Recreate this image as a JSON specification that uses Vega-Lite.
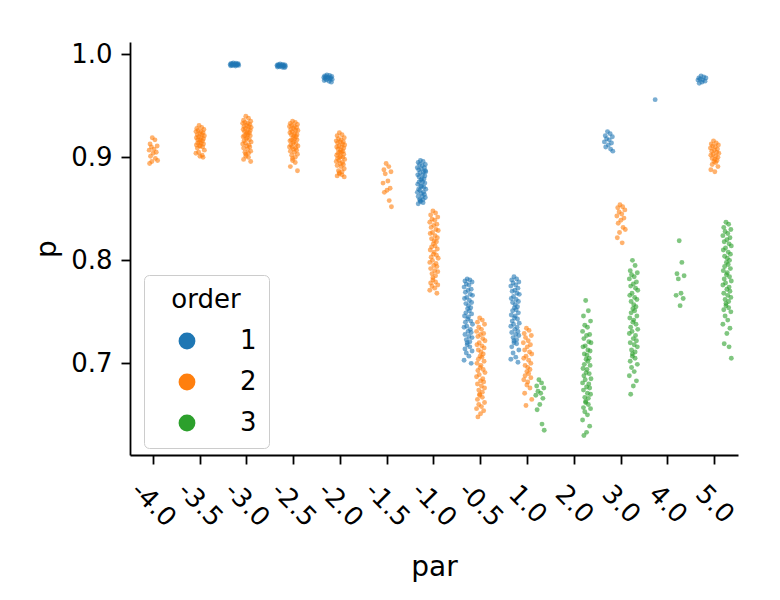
{
"$schema":"https://vega.github.io/schema/vega-lite/v6.json",
"width":608,"height":413,
"autosize":{"type":"none"},
"padding":{"left":130,"top":42,"right":42,"bottom":145},
"background":"white",
"config":{"view":{"stroke":null},"font":"DejaVu Sans",
"axis":{"grid":false,"domainColor":"#000000","tickColor":"#000000","labelColor":"#000000","titleColor":"#000000","domainWidth":1.8,"tickWidth":1.8,"tickSize":9,"labelFontSize":26,"titleFontSize":28,"titleFontWeight":"normal","labelFont":"DejaVu Sans","titleFont":"DejaVu Sans"},
"legend":{"titleFont":"DejaVu Sans","labelFont":"DejaVu Sans"}},
"data":{"values":[
{"par":"-4.0","order":2,"run":7,"p":0.919},{"par":"-4.0","order":2,"run":13,"p":0.917},{"par":"-4.0","order":2,"run":2,"p":0.913},{"par":"-4.0","order":2,"run":18,"p":0.911},{"par":"-4.0","order":2,"run":5,"p":0.910},{"par":"-4.0","order":2,"run":11,"p":0.908},{"par":"-4.0","order":2,"run":0,"p":0.907},{"par":"-4.0","order":2,"run":16,"p":0.905},{"par":"-4.0","order":2,"run":9,"p":0.904},{"par":"-4.0","order":2,"run":3,"p":0.901},{"par":"-4.0","order":2,"run":14,"p":0.899},{"par":"-4.0","order":2,"run":19,"p":0.897},{"par":"-4.0","order":2,"run":6,"p":0.896},{"par":"-4.0","order":2,"run":1,"p":0.894},
{"par":"-3.5","order":2,"run":7,"p":0.931},{"par":"-3.5","order":2,"run":13,"p":0.929},{"par":"-3.5","order":2,"run":2,"p":0.928},{"par":"-3.5","order":2,"run":18,"p":0.927},{"par":"-3.5","order":2,"run":5,"p":0.926},{"par":"-3.5","order":2,"run":11,"p":0.925},{"par":"-3.5","order":2,"run":0,"p":0.925},{"par":"-3.5","order":2,"run":16,"p":0.924},{"par":"-3.5","order":2,"run":9,"p":0.923},{"par":"-3.5","order":2,"run":3,"p":0.922},{"par":"-3.5","order":2,"run":14,"p":0.922},{"par":"-3.5","order":2,"run":19,"p":0.921},{"par":"-3.5","order":2,"run":6,"p":0.920},{"par":"-3.5","order":2,"run":1,"p":0.919},{"par":"-3.5","order":2,"run":12,"p":0.919},{"par":"-3.5","order":2,"run":17,"p":0.918},{"par":"-3.5","order":2,"run":4,"p":0.917},{"par":"-3.5","order":2,"run":10,"p":0.917},{"par":"-3.5","order":2,"run":15,"p":0.916},{"par":"-3.5","order":2,"run":8,"p":0.915},
{"par":"-3.5","order":2,"run":12,"p":0.914},{"par":"-3.5","order":2,"run":4,"p":0.914},{"par":"-3.5","order":2,"run":17,"p":0.913},{"par":"-3.5","order":2,"run":1,"p":0.912},{"par":"-3.5","order":2,"run":10,"p":0.911},{"par":"-3.5","order":2,"run":8,"p":0.911},{"par":"-3.5","order":2,"run":15,"p":0.910},{"par":"-3.5","order":2,"run":3,"p":0.909},{"par":"-3.5","order":2,"run":19,"p":0.907},{"par":"-3.5","order":2,"run":6,"p":0.905},{"par":"-3.5","order":2,"run":0,"p":0.904},{"par":"-3.5","order":2,"run":14,"p":0.902},{"par":"-3.5","order":2,"run":9,"p":0.901},{"par":"-3.5","order":2,"run":16,"p":0.900},
{"par":"-3.0","order":1,"run":7,"p":0.9916},{"par":"-3.0","order":1,"run":13,"p":0.9913},{"par":"-3.0","order":1,"run":2,"p":0.9911},{"par":"-3.0","order":1,"run":18,"p":0.9909},{"par":"-3.0","order":1,"run":5,"p":0.9906},{"par":"-3.0","order":1,"run":11,"p":0.9904},{"par":"-3.0","order":1,"run":0,"p":0.9902},{"par":"-3.0","order":1,"run":16,"p":0.9900},{"par":"-3.0","order":1,"run":9,"p":0.9898},{"par":"-3.0","order":1,"run":3,"p":0.9897},{"par":"-3.0","order":1,"run":14,"p":0.9895},{"par":"-3.0","order":1,"run":19,"p":0.9893},{"par":"-3.0","order":1,"run":6,"p":0.9891},{"par":"-3.0","order":1,"run":1,"p":0.9889},{"par":"-3.0","order":1,"run":12,"p":0.9887},{"par":"-3.0","order":1,"run":17,"p":0.9903},
{"par":"-3.0","order":2,"run":7,"p":0.940},{"par":"-3.0","order":2,"run":13,"p":0.938},{"par":"-3.0","order":2,"run":2,"p":0.936},{"par":"-3.0","order":2,"run":18,"p":0.935},{"par":"-3.0","order":2,"run":5,"p":0.934},{"par":"-3.0","order":2,"run":11,"p":0.933},{"par":"-3.0","order":2,"run":0,"p":0.933},{"par":"-3.0","order":2,"run":16,"p":0.932},{"par":"-3.0","order":2,"run":9,"p":0.931},{"par":"-3.0","order":2,"run":3,"p":0.930},{"par":"-3.0","order":2,"run":14,"p":0.930},{"par":"-3.0","order":2,"run":19,"p":0.929},{"par":"-3.0","order":2,"run":6,"p":0.928},{"par":"-3.0","order":2,"run":1,"p":0.927},{"par":"-3.0","order":2,"run":12,"p":0.927},{"par":"-3.0","order":2,"run":17,"p":0.926},{"par":"-3.0","order":2,"run":4,"p":0.925},{"par":"-3.0","order":2,"run":10,"p":0.924},{"par":"-3.0","order":2,"run":15,"p":0.924},{"par":"-3.0","order":2,"run":8,"p":0.923},
{"par":"-3.0","order":2,"run":12,"p":0.922},{"par":"-3.0","order":2,"run":4,"p":0.921},{"par":"-3.0","order":2,"run":17,"p":0.921},{"par":"-3.0","order":2,"run":1,"p":0.920},{"par":"-3.0","order":2,"run":10,"p":0.919},{"par":"-3.0","order":2,"run":8,"p":0.918},{"par":"-3.0","order":2,"run":15,"p":0.917},{"par":"-3.0","order":2,"run":3,"p":0.916},{"par":"-3.0","order":2,"run":19,"p":0.915},{"par":"-3.0","order":2,"run":6,"p":0.914},{"par":"-3.0","order":2,"run":0,"p":0.913},{"par":"-3.0","order":2,"run":14,"p":0.912},{"par":"-3.0","order":2,"run":9,"p":0.911},{"par":"-3.0","order":2,"run":16,"p":0.910},{"par":"-3.0","order":2,"run":2,"p":0.909},{"par":"-3.0","order":2,"run":11,"p":0.908},{"par":"-3.0","order":2,"run":18,"p":0.906},{"par":"-3.0","order":2,"run":5,"p":0.905},{"par":"-3.0","order":2,"run":13,"p":0.904},{"par":"-3.0","order":2,"run":7,"p":0.903},
{"par":"-3.0","order":2,"run":7,"p":0.901},{"par":"-3.0","order":2,"run":13,"p":0.900},{"par":"-3.0","order":2,"run":2,"p":0.898},{"par":"-3.0","order":2,"run":18,"p":0.896},
{"par":"-2.5","order":1,"run":7,"p":0.9906},{"par":"-2.5","order":1,"run":13,"p":0.9903},{"par":"-2.5","order":1,"run":2,"p":0.9900},{"par":"-2.5","order":1,"run":18,"p":0.9898},{"par":"-2.5","order":1,"run":5,"p":0.9896},{"par":"-2.5","order":1,"run":11,"p":0.9894},{"par":"-2.5","order":1,"run":0,"p":0.9892},{"par":"-2.5","order":1,"run":16,"p":0.9890},{"par":"-2.5","order":1,"run":9,"p":0.9888},{"par":"-2.5","order":1,"run":3,"p":0.9886},{"par":"-2.5","order":1,"run":14,"p":0.9884},{"par":"-2.5","order":1,"run":19,"p":0.9882},{"par":"-2.5","order":1,"run":6,"p":0.9880},{"par":"-2.5","order":1,"run":1,"p":0.9877},{"par":"-2.5","order":1,"run":12,"p":0.9874},{"par":"-2.5","order":1,"run":17,"p":0.9871},
{"par":"-2.5","order":2,"run":7,"p":0.935},{"par":"-2.5","order":2,"run":13,"p":0.934},{"par":"-2.5","order":2,"run":2,"p":0.933},{"par":"-2.5","order":2,"run":18,"p":0.932},{"par":"-2.5","order":2,"run":5,"p":0.931},{"par":"-2.5","order":2,"run":11,"p":0.930},{"par":"-2.5","order":2,"run":0,"p":0.930},{"par":"-2.5","order":2,"run":16,"p":0.929},{"par":"-2.5","order":2,"run":9,"p":0.928},{"par":"-2.5","order":2,"run":3,"p":0.927},{"par":"-2.5","order":2,"run":14,"p":0.926},{"par":"-2.5","order":2,"run":19,"p":0.926},{"par":"-2.5","order":2,"run":6,"p":0.925},{"par":"-2.5","order":2,"run":1,"p":0.924},{"par":"-2.5","order":2,"run":12,"p":0.923},{"par":"-2.5","order":2,"run":17,"p":0.922},{"par":"-2.5","order":2,"run":4,"p":0.922},{"par":"-2.5","order":2,"run":10,"p":0.921},{"par":"-2.5","order":2,"run":15,"p":0.920},{"par":"-2.5","order":2,"run":8,"p":0.919},
{"par":"-2.5","order":2,"run":12,"p":0.918},{"par":"-2.5","order":2,"run":4,"p":0.917},{"par":"-2.5","order":2,"run":17,"p":0.917},{"par":"-2.5","order":2,"run":1,"p":0.916},{"par":"-2.5","order":2,"run":10,"p":0.915},{"par":"-2.5","order":2,"run":8,"p":0.914},{"par":"-2.5","order":2,"run":15,"p":0.913},{"par":"-2.5","order":2,"run":3,"p":0.912},{"par":"-2.5","order":2,"run":19,"p":0.911},{"par":"-2.5","order":2,"run":6,"p":0.910},{"par":"-2.5","order":2,"run":0,"p":0.910},{"par":"-2.5","order":2,"run":14,"p":0.909},{"par":"-2.5","order":2,"run":9,"p":0.908},{"par":"-2.5","order":2,"run":16,"p":0.907},{"par":"-2.5","order":2,"run":2,"p":0.906},{"par":"-2.5","order":2,"run":11,"p":0.905},{"par":"-2.5","order":2,"run":18,"p":0.903},{"par":"-2.5","order":2,"run":5,"p":0.902},{"par":"-2.5","order":2,"run":13,"p":0.900},{"par":"-2.5","order":2,"run":7,"p":0.899},
{"par":"-2.5","order":2,"run":7,"p":0.897},{"par":"-2.5","order":2,"run":13,"p":0.895},{"par":"-2.5","order":2,"run":2,"p":0.891},{"par":"-2.5","order":2,"run":18,"p":0.887},
{"par":"-2.0","order":1,"run":7,"p":0.9800},{"par":"-2.0","order":1,"run":13,"p":0.9795},{"par":"-2.0","order":1,"run":2,"p":0.9790},{"par":"-2.0","order":1,"run":18,"p":0.9786},{"par":"-2.0","order":1,"run":5,"p":0.9782},{"par":"-2.0","order":1,"run":11,"p":0.9779},{"par":"-2.0","order":1,"run":0,"p":0.9775},{"par":"-2.0","order":1,"run":16,"p":0.9772},{"par":"-2.0","order":1,"run":9,"p":0.9768},{"par":"-2.0","order":1,"run":3,"p":0.9765},{"par":"-2.0","order":1,"run":14,"p":0.9761},{"par":"-2.0","order":1,"run":19,"p":0.9757},{"par":"-2.0","order":1,"run":6,"p":0.9752},{"par":"-2.0","order":1,"run":1,"p":0.9746},{"par":"-2.0","order":1,"run":12,"p":0.9738},{"par":"-2.0","order":1,"run":17,"p":0.9730},
{"par":"-2.0","order":2,"run":7,"p":0.924},{"par":"-2.0","order":2,"run":13,"p":0.922},{"par":"-2.0","order":2,"run":2,"p":0.921},{"par":"-2.0","order":2,"run":18,"p":0.919},{"par":"-2.0","order":2,"run":5,"p":0.918},{"par":"-2.0","order":2,"run":11,"p":0.917},{"par":"-2.0","order":2,"run":0,"p":0.916},{"par":"-2.0","order":2,"run":16,"p":0.915},{"par":"-2.0","order":2,"run":9,"p":0.915},{"par":"-2.0","order":2,"run":3,"p":0.914},{"par":"-2.0","order":2,"run":14,"p":0.913},{"par":"-2.0","order":2,"run":19,"p":0.912},{"par":"-2.0","order":2,"run":6,"p":0.911},{"par":"-2.0","order":2,"run":1,"p":0.910},{"par":"-2.0","order":2,"run":12,"p":0.910},{"par":"-2.0","order":2,"run":17,"p":0.909},{"par":"-2.0","order":2,"run":4,"p":0.908},{"par":"-2.0","order":2,"run":10,"p":0.907},{"par":"-2.0","order":2,"run":15,"p":0.906},{"par":"-2.0","order":2,"run":8,"p":0.905},
{"par":"-2.0","order":2,"run":12,"p":0.905},{"par":"-2.0","order":2,"run":4,"p":0.904},{"par":"-2.0","order":2,"run":17,"p":0.903},{"par":"-2.0","order":2,"run":1,"p":0.902},{"par":"-2.0","order":2,"run":10,"p":0.901},{"par":"-2.0","order":2,"run":8,"p":0.900},{"par":"-2.0","order":2,"run":15,"p":0.900},{"par":"-2.0","order":2,"run":3,"p":0.899},{"par":"-2.0","order":2,"run":19,"p":0.898},{"par":"-2.0","order":2,"run":6,"p":0.897},{"par":"-2.0","order":2,"run":0,"p":0.896},{"par":"-2.0","order":2,"run":14,"p":0.895},{"par":"-2.0","order":2,"run":9,"p":0.894},{"par":"-2.0","order":2,"run":16,"p":0.893},{"par":"-2.0","order":2,"run":2,"p":0.892},{"par":"-2.0","order":2,"run":11,"p":0.891},{"par":"-2.0","order":2,"run":18,"p":0.889},{"par":"-2.0","order":2,"run":5,"p":0.887},{"par":"-2.0","order":2,"run":13,"p":0.886},{"par":"-2.0","order":2,"run":7,"p":0.885},
{"par":"-2.0","order":2,"run":7,"p":0.884},{"par":"-2.0","order":2,"run":13,"p":0.883},{"par":"-2.0","order":2,"run":2,"p":0.882},{"par":"-2.0","order":2,"run":18,"p":0.881},
{"par":"-1.5","order":2,"run":7,"p":0.894},{"par":"-1.5","order":2,"run":13,"p":0.891},{"par":"-1.5","order":2,"run":2,"p":0.888},{"par":"-1.5","order":2,"run":18,"p":0.886},{"par":"-1.5","order":2,"run":5,"p":0.884},{"par":"-1.5","order":2,"run":11,"p":0.877},{"par":"-1.5","order":2,"run":0,"p":0.875},{"par":"-1.5","order":2,"run":16,"p":0.870},{"par":"-1.5","order":2,"run":9,"p":0.868},{"par":"-1.5","order":2,"run":3,"p":0.866},{"par":"-1.5","order":2,"run":14,"p":0.858},{"par":"-1.5","order":2,"run":19,"p":0.852},
{"par":"-1.0","order":1,"run":7,"p":0.897},{"par":"-1.0","order":1,"run":13,"p":0.896},{"par":"-1.0","order":1,"run":2,"p":0.895},{"par":"-1.0","order":1,"run":18,"p":0.893},{"par":"-1.0","order":1,"run":5,"p":0.893},{"par":"-1.0","order":1,"run":11,"p":0.892},{"par":"-1.0","order":1,"run":0,"p":0.890},{"par":"-1.0","order":1,"run":16,"p":0.890},{"par":"-1.0","order":1,"run":9,"p":0.889},{"par":"-1.0","order":1,"run":3,"p":0.888},{"par":"-1.0","order":1,"run":14,"p":0.886},{"par":"-1.0","order":1,"run":19,"p":0.886},{"par":"-1.0","order":1,"run":6,"p":0.885},{"par":"-1.0","order":1,"run":1,"p":0.883},{"par":"-1.0","order":1,"run":12,"p":0.883},{"par":"-1.0","order":1,"run":17,"p":0.882},{"par":"-1.0","order":1,"run":4,"p":0.881},{"par":"-1.0","order":1,"run":10,"p":0.879},{"par":"-1.0","order":1,"run":15,"p":0.879},{"par":"-1.0","order":1,"run":8,"p":0.878},
{"par":"-1.0","order":1,"run":12,"p":0.876},{"par":"-1.0","order":1,"run":4,"p":0.876},{"par":"-1.0","order":1,"run":17,"p":0.875},{"par":"-1.0","order":1,"run":1,"p":0.874},{"par":"-1.0","order":1,"run":10,"p":0.872},{"par":"-1.0","order":1,"run":8,"p":0.872},{"par":"-1.0","order":1,"run":15,"p":0.871},{"par":"-1.0","order":1,"run":3,"p":0.869},{"par":"-1.0","order":1,"run":19,"p":0.869},{"par":"-1.0","order":1,"run":6,"p":0.868},{"par":"-1.0","order":1,"run":0,"p":0.866},{"par":"-1.0","order":1,"run":14,"p":0.866},{"par":"-1.0","order":1,"run":9,"p":0.865},{"par":"-1.0","order":1,"run":16,"p":0.864},{"par":"-1.0","order":1,"run":2,"p":0.862},{"par":"-1.0","order":1,"run":11,"p":0.862},{"par":"-1.0","order":1,"run":18,"p":0.861},{"par":"-1.0","order":1,"run":5,"p":0.859},{"par":"-1.0","order":1,"run":13,"p":0.859},{"par":"-1.0","order":1,"run":7,"p":0.858},
{"par":"-1.0","order":1,"run":7,"p":0.857},{"par":"-1.0","order":1,"run":13,"p":0.856},{"par":"-1.0","order":1,"run":2,"p":0.855},{"par":"-1.0","order":1,"run":18,"p":0.887},
{"par":"-1.0","order":2,"run":7,"p":0.848},{"par":"-1.0","order":2,"run":13,"p":0.846},{"par":"-1.0","order":2,"run":2,"p":0.844},{"par":"-1.0","order":2,"run":18,"p":0.842},{"par":"-1.0","order":2,"run":5,"p":0.840},{"par":"-1.0","order":2,"run":11,"p":0.839},{"par":"-1.0","order":2,"run":0,"p":0.837},{"par":"-1.0","order":2,"run":16,"p":0.835},{"par":"-1.0","order":2,"run":9,"p":0.834},{"par":"-1.0","order":2,"run":3,"p":0.832},{"par":"-1.0","order":2,"run":14,"p":0.830},{"par":"-1.0","order":2,"run":19,"p":0.829},{"par":"-1.0","order":2,"run":6,"p":0.827},{"par":"-1.0","order":2,"run":1,"p":0.826},{"par":"-1.0","order":2,"run":12,"p":0.824},{"par":"-1.0","order":2,"run":17,"p":0.822},{"par":"-1.0","order":2,"run":4,"p":0.821},{"par":"-1.0","order":2,"run":10,"p":0.819},{"par":"-1.0","order":2,"run":15,"p":0.818},{"par":"-1.0","order":2,"run":8,"p":0.816},
{"par":"-1.0","order":2,"run":12,"p":0.814},{"par":"-1.0","order":2,"run":4,"p":0.813},{"par":"-1.0","order":2,"run":17,"p":0.811},{"par":"-1.0","order":2,"run":1,"p":0.810},{"par":"-1.0","order":2,"run":10,"p":0.808},{"par":"-1.0","order":2,"run":8,"p":0.806},{"par":"-1.0","order":2,"run":15,"p":0.805},{"par":"-1.0","order":2,"run":3,"p":0.803},{"par":"-1.0","order":2,"run":19,"p":0.802},{"par":"-1.0","order":2,"run":6,"p":0.800},{"par":"-1.0","order":2,"run":0,"p":0.798},{"par":"-1.0","order":2,"run":14,"p":0.797},{"par":"-1.0","order":2,"run":9,"p":0.795},{"par":"-1.0","order":2,"run":16,"p":0.794},{"par":"-1.0","order":2,"run":2,"p":0.792},{"par":"-1.0","order":2,"run":11,"p":0.790},{"par":"-1.0","order":2,"run":18,"p":0.789},{"par":"-1.0","order":2,"run":5,"p":0.787},{"par":"-1.0","order":2,"run":13,"p":0.785},{"par":"-1.0","order":2,"run":7,"p":0.783},
{"par":"-1.0","order":2,"run":7,"p":0.781},{"par":"-1.0","order":2,"run":13,"p":0.779},{"par":"-1.0","order":2,"run":2,"p":0.778},{"par":"-1.0","order":2,"run":18,"p":0.776},{"par":"-1.0","order":2,"run":5,"p":0.775},{"par":"-1.0","order":2,"run":11,"p":0.773},{"par":"-1.0","order":2,"run":0,"p":0.771},{"par":"-1.0","order":2,"run":16,"p":0.768},
{"par":"-0.5","order":1,"run":7,"p":0.782},{"par":"-0.5","order":1,"run":13,"p":0.781},{"par":"-0.5","order":1,"run":2,"p":0.780},{"par":"-0.5","order":1,"run":18,"p":0.779},{"par":"-0.5","order":1,"run":5,"p":0.777},{"par":"-0.5","order":1,"run":11,"p":0.776},{"par":"-0.5","order":1,"run":0,"p":0.774},{"par":"-0.5","order":1,"run":16,"p":0.772},{"par":"-0.5","order":1,"run":9,"p":0.771},{"par":"-0.5","order":1,"run":3,"p":0.769},{"par":"-0.5","order":1,"run":14,"p":0.767},{"par":"-0.5","order":1,"run":19,"p":0.766},{"par":"-0.5","order":1,"run":6,"p":0.764},{"par":"-0.5","order":1,"run":1,"p":0.763},{"par":"-0.5","order":1,"run":12,"p":0.761},{"par":"-0.5","order":1,"run":17,"p":0.759},{"par":"-0.5","order":1,"run":4,"p":0.758},{"par":"-0.5","order":1,"run":10,"p":0.756},{"par":"-0.5","order":1,"run":15,"p":0.754},{"par":"-0.5","order":1,"run":8,"p":0.753},
{"par":"-0.5","order":1,"run":12,"p":0.751},{"par":"-0.5","order":1,"run":4,"p":0.749},{"par":"-0.5","order":1,"run":17,"p":0.748},{"par":"-0.5","order":1,"run":1,"p":0.746},{"par":"-0.5","order":1,"run":10,"p":0.745},{"par":"-0.5","order":1,"run":8,"p":0.743},{"par":"-0.5","order":1,"run":15,"p":0.741},{"par":"-0.5","order":1,"run":3,"p":0.740},{"par":"-0.5","order":1,"run":19,"p":0.738},{"par":"-0.5","order":1,"run":6,"p":0.736},{"par":"-0.5","order":1,"run":0,"p":0.735},{"par":"-0.5","order":1,"run":14,"p":0.733},{"par":"-0.5","order":1,"run":9,"p":0.731},{"par":"-0.5","order":1,"run":16,"p":0.730},{"par":"-0.5","order":1,"run":2,"p":0.728},{"par":"-0.5","order":1,"run":11,"p":0.726},{"par":"-0.5","order":1,"run":18,"p":0.725},{"par":"-0.5","order":1,"run":5,"p":0.723},{"par":"-0.5","order":1,"run":13,"p":0.721},{"par":"-0.5","order":1,"run":7,"p":0.720},
{"par":"-0.5","order":1,"run":7,"p":0.718},{"par":"-0.5","order":1,"run":13,"p":0.716},{"par":"-0.5","order":1,"run":2,"p":0.714},{"par":"-0.5","order":1,"run":18,"p":0.712},{"par":"-0.5","order":1,"run":5,"p":0.710},{"par":"-0.5","order":1,"run":11,"p":0.707},{"par":"-0.5","order":1,"run":0,"p":0.703},{"par":"-0.5","order":1,"run":16,"p":0.700},
{"par":"-0.5","order":2,"run":7,"p":0.744},{"par":"-0.5","order":2,"run":13,"p":0.742},{"par":"-0.5","order":2,"run":2,"p":0.740},{"par":"-0.5","order":2,"run":18,"p":0.738},{"par":"-0.5","order":2,"run":5,"p":0.735},{"par":"-0.5","order":2,"run":11,"p":0.733},{"par":"-0.5","order":2,"run":0,"p":0.731},{"par":"-0.5","order":2,"run":16,"p":0.729},{"par":"-0.5","order":2,"run":9,"p":0.728},{"par":"-0.5","order":2,"run":3,"p":0.726},{"par":"-0.5","order":2,"run":14,"p":0.724},{"par":"-0.5","order":2,"run":19,"p":0.722},{"par":"-0.5","order":2,"run":6,"p":0.720},{"par":"-0.5","order":2,"run":1,"p":0.718},{"par":"-0.5","order":2,"run":12,"p":0.717},{"par":"-0.5","order":2,"run":17,"p":0.715},{"par":"-0.5","order":2,"run":4,"p":0.713},{"par":"-0.5","order":2,"run":10,"p":0.711},{"par":"-0.5","order":2,"run":15,"p":0.709},{"par":"-0.5","order":2,"run":8,"p":0.707},
{"par":"-0.5","order":2,"run":12,"p":0.706},{"par":"-0.5","order":2,"run":4,"p":0.704},{"par":"-0.5","order":2,"run":17,"p":0.702},{"par":"-0.5","order":2,"run":1,"p":0.700},{"par":"-0.5","order":2,"run":10,"p":0.698},{"par":"-0.5","order":2,"run":8,"p":0.696},{"par":"-0.5","order":2,"run":15,"p":0.694},{"par":"-0.5","order":2,"run":3,"p":0.693},{"par":"-0.5","order":2,"run":19,"p":0.691},{"par":"-0.5","order":2,"run":6,"p":0.689},{"par":"-0.5","order":2,"run":0,"p":0.687},{"par":"-0.5","order":2,"run":14,"p":0.685},{"par":"-0.5","order":2,"run":9,"p":0.683},{"par":"-0.5","order":2,"run":16,"p":0.682},{"par":"-0.5","order":2,"run":2,"p":0.680},{"par":"-0.5","order":2,"run":11,"p":0.678},{"par":"-0.5","order":2,"run":18,"p":0.676},{"par":"-0.5","order":2,"run":5,"p":0.674},{"par":"-0.5","order":2,"run":13,"p":0.672},{"par":"-0.5","order":2,"run":7,"p":0.670},
{"par":"-0.5","order":2,"run":7,"p":0.669},{"par":"-0.5","order":2,"run":13,"p":0.667},{"par":"-0.5","order":2,"run":2,"p":0.665},{"par":"-0.5","order":2,"run":18,"p":0.662},{"par":"-0.5","order":2,"run":5,"p":0.660},{"par":"-0.5","order":2,"run":11,"p":0.658},{"par":"-0.5","order":2,"run":0,"p":0.656},{"par":"-0.5","order":2,"run":16,"p":0.654},{"par":"-0.5","order":2,"run":9,"p":0.651},{"par":"-0.5","order":2,"run":3,"p":0.648},
{"par":"1.0","order":1,"run":7,"p":0.784},{"par":"1.0","order":1,"run":13,"p":0.782},{"par":"1.0","order":1,"run":2,"p":0.781},{"par":"1.0","order":1,"run":18,"p":0.779},{"par":"1.0","order":1,"run":5,"p":0.778},{"par":"1.0","order":1,"run":11,"p":0.776},{"par":"1.0","order":1,"run":0,"p":0.775},{"par":"1.0","order":1,"run":16,"p":0.773},{"par":"1.0","order":1,"run":9,"p":0.771},{"par":"1.0","order":1,"run":3,"p":0.770},{"par":"1.0","order":1,"run":14,"p":0.768},{"par":"1.0","order":1,"run":19,"p":0.767},{"par":"1.0","order":1,"run":6,"p":0.765},{"par":"1.0","order":1,"run":1,"p":0.763},{"par":"1.0","order":1,"run":12,"p":0.762},{"par":"1.0","order":1,"run":17,"p":0.760},{"par":"1.0","order":1,"run":4,"p":0.759},{"par":"1.0","order":1,"run":10,"p":0.757},{"par":"1.0","order":1,"run":15,"p":0.755},{"par":"1.0","order":1,"run":8,"p":0.754},
{"par":"1.0","order":1,"run":12,"p":0.752},{"par":"1.0","order":1,"run":4,"p":0.751},{"par":"1.0","order":1,"run":17,"p":0.749},{"par":"1.0","order":1,"run":1,"p":0.747},{"par":"1.0","order":1,"run":10,"p":0.746},{"par":"1.0","order":1,"run":8,"p":0.744},{"par":"1.0","order":1,"run":15,"p":0.743},{"par":"1.0","order":1,"run":3,"p":0.741},{"par":"1.0","order":1,"run":19,"p":0.739},{"par":"1.0","order":1,"run":6,"p":0.738},{"par":"1.0","order":1,"run":0,"p":0.736},{"par":"1.0","order":1,"run":14,"p":0.735},{"par":"1.0","order":1,"run":9,"p":0.733},{"par":"1.0","order":1,"run":16,"p":0.731},{"par":"1.0","order":1,"run":2,"p":0.730},{"par":"1.0","order":1,"run":11,"p":0.728},{"par":"1.0","order":1,"run":18,"p":0.727},{"par":"1.0","order":1,"run":5,"p":0.725},{"par":"1.0","order":1,"run":13,"p":0.723},{"par":"1.0","order":1,"run":7,"p":0.722},
{"par":"1.0","order":1,"run":7,"p":0.720},{"par":"1.0","order":1,"run":13,"p":0.719},{"par":"1.0","order":1,"run":2,"p":0.716},{"par":"1.0","order":1,"run":18,"p":0.713},{"par":"1.0","order":1,"run":5,"p":0.710},{"par":"1.0","order":1,"run":11,"p":0.706},{"par":"1.0","order":1,"run":0,"p":0.704},{"par":"1.0","order":1,"run":16,"p":0.701},
{"par":"1.0","order":2,"run":7,"p":0.734},{"par":"1.0","order":2,"run":13,"p":0.732},{"par":"1.0","order":2,"run":2,"p":0.729},{"par":"1.0","order":2,"run":18,"p":0.727},{"par":"1.0","order":2,"run":5,"p":0.725},{"par":"1.0","order":2,"run":11,"p":0.722},{"par":"1.0","order":2,"run":0,"p":0.720},{"par":"1.0","order":2,"run":16,"p":0.718},{"par":"1.0","order":2,"run":9,"p":0.716},{"par":"1.0","order":2,"run":3,"p":0.713},{"par":"1.0","order":2,"run":14,"p":0.711},{"par":"1.0","order":2,"run":19,"p":0.709},{"par":"1.0","order":2,"run":6,"p":0.707},{"par":"1.0","order":2,"run":1,"p":0.705},{"par":"1.0","order":2,"run":12,"p":0.703},{"par":"1.0","order":2,"run":17,"p":0.700},{"par":"1.0","order":2,"run":4,"p":0.698},{"par":"1.0","order":2,"run":10,"p":0.696},{"par":"1.0","order":2,"run":15,"p":0.694},{"par":"1.0","order":2,"run":8,"p":0.692},
{"par":"1.0","order":2,"run":12,"p":0.690},{"par":"1.0","order":2,"run":4,"p":0.688},{"par":"1.0","order":2,"run":17,"p":0.686},{"par":"1.0","order":2,"run":1,"p":0.684},{"par":"1.0","order":2,"run":10,"p":0.682},{"par":"1.0","order":2,"run":8,"p":0.679},{"par":"1.0","order":2,"run":15,"p":0.676},{"par":"1.0","order":2,"run":3,"p":0.671},{"par":"1.0","order":2,"run":19,"p":0.665},{"par":"1.0","order":2,"run":6,"p":0.659},
{"par":"1.0","order":3,"run":7,"p":0.684},{"par":"1.0","order":3,"run":13,"p":0.681},{"par":"1.0","order":3,"run":2,"p":0.678},{"par":"1.0","order":3,"run":18,"p":0.676},{"par":"1.0","order":3,"run":5,"p":0.673},{"par":"1.0","order":3,"run":11,"p":0.671},{"par":"1.0","order":3,"run":0,"p":0.669},{"par":"1.0","order":3,"run":16,"p":0.666},{"par":"1.0","order":3,"run":9,"p":0.660},{"par":"1.0","order":3,"run":3,"p":0.655},{"par":"1.0","order":3,"run":14,"p":0.641},{"par":"1.0","order":3,"run":19,"p":0.635},
{"par":"2.0","order":3,"run":7,"p":0.761},{"par":"2.0","order":3,"run":13,"p":0.751},{"par":"2.0","order":3,"run":2,"p":0.746},{"par":"2.0","order":3,"run":18,"p":0.741},{"par":"2.0","order":3,"run":5,"p":0.737},{"par":"2.0","order":3,"run":11,"p":0.735},{"par":"2.0","order":3,"run":0,"p":0.731},{"par":"2.0","order":3,"run":16,"p":0.728},{"par":"2.0","order":3,"run":9,"p":0.727},{"par":"2.0","order":3,"run":3,"p":0.724},{"par":"2.0","order":3,"run":14,"p":0.721},{"par":"2.0","order":3,"run":19,"p":0.720},{"par":"2.0","order":3,"run":6,"p":0.717},{"par":"2.0","order":3,"run":1,"p":0.716},{"par":"2.0","order":3,"run":12,"p":0.713},{"par":"2.0","order":3,"run":17,"p":0.712},{"par":"2.0","order":3,"run":4,"p":0.709},{"par":"2.0","order":3,"run":10,"p":0.708},{"par":"2.0","order":3,"run":15,"p":0.705},{"par":"2.0","order":3,"run":8,"p":0.704},
{"par":"2.0","order":3,"run":12,"p":0.702},{"par":"2.0","order":3,"run":4,"p":0.699},{"par":"2.0","order":3,"run":17,"p":0.698},{"par":"2.0","order":3,"run":1,"p":0.695},{"par":"2.0","order":3,"run":10,"p":0.694},{"par":"2.0","order":3,"run":8,"p":0.691},{"par":"2.0","order":3,"run":15,"p":0.690},{"par":"2.0","order":3,"run":3,"p":0.688},{"par":"2.0","order":3,"run":19,"p":0.685},{"par":"2.0","order":3,"run":6,"p":0.684},{"par":"2.0","order":3,"run":0,"p":0.681},{"par":"2.0","order":3,"run":14,"p":0.680},{"par":"2.0","order":3,"run":9,"p":0.677},{"par":"2.0","order":3,"run":16,"p":0.676},{"par":"2.0","order":3,"run":2,"p":0.674},{"par":"2.0","order":3,"run":11,"p":0.671},{"par":"2.0","order":3,"run":18,"p":0.670},{"par":"2.0","order":3,"run":5,"p":0.667},{"par":"2.0","order":3,"run":13,"p":0.666},{"par":"2.0","order":3,"run":7,"p":0.663},
{"par":"2.0","order":3,"run":7,"p":0.662},{"par":"2.0","order":3,"run":13,"p":0.660},{"par":"2.0","order":3,"run":2,"p":0.657},{"par":"2.0","order":3,"run":18,"p":0.656},{"par":"2.0","order":3,"run":5,"p":0.653},{"par":"2.0","order":3,"run":11,"p":0.650},{"par":"2.0","order":3,"run":0,"p":0.645},{"par":"2.0","order":3,"run":16,"p":0.639},{"par":"2.0","order":3,"run":9,"p":0.633},{"par":"2.0","order":3,"run":3,"p":0.630},
{"par":"3.0","order":1,"run":7,"p":0.925},{"par":"3.0","order":1,"run":13,"p":0.923},{"par":"3.0","order":1,"run":2,"p":0.921},{"par":"3.0","order":1,"run":18,"p":0.920},{"par":"3.0","order":1,"run":5,"p":0.918},{"par":"3.0","order":1,"run":11,"p":0.917},{"par":"3.0","order":1,"run":0,"p":0.915},{"par":"3.0","order":1,"run":16,"p":0.914},{"par":"3.0","order":1,"run":9,"p":0.912},{"par":"3.0","order":1,"run":3,"p":0.910},{"par":"3.0","order":1,"run":14,"p":0.908},{"par":"3.0","order":1,"run":19,"p":0.906},
{"par":"3.0","order":2,"run":7,"p":0.854},{"par":"3.0","order":2,"run":13,"p":0.852},{"par":"3.0","order":2,"run":2,"p":0.851},{"par":"3.0","order":2,"run":18,"p":0.849},{"par":"3.0","order":2,"run":5,"p":0.847},{"par":"3.0","order":2,"run":11,"p":0.845},{"par":"3.0","order":2,"run":0,"p":0.843},{"par":"3.0","order":2,"run":16,"p":0.841},{"par":"3.0","order":2,"run":9,"p":0.839},{"par":"3.0","order":2,"run":3,"p":0.836},{"par":"3.0","order":2,"run":14,"p":0.832},{"par":"3.0","order":2,"run":19,"p":0.830},{"par":"3.0","order":2,"run":6,"p":0.827},{"par":"3.0","order":2,"run":1,"p":0.822},{"par":"3.0","order":2,"run":12,"p":0.817},
{"par":"3.0","order":3,"run":7,"p":0.800},{"par":"3.0","order":3,"run":13,"p":0.795},{"par":"3.0","order":3,"run":2,"p":0.790},{"par":"3.0","order":3,"run":18,"p":0.788},{"par":"3.0","order":3,"run":5,"p":0.786},{"par":"3.0","order":3,"run":11,"p":0.784},{"par":"3.0","order":3,"run":0,"p":0.782},{"par":"3.0","order":3,"run":16,"p":0.779},{"par":"3.0","order":3,"run":9,"p":0.777},{"par":"3.0","order":3,"run":3,"p":0.775},{"par":"3.0","order":3,"run":14,"p":0.773},{"par":"3.0","order":3,"run":19,"p":0.771},{"par":"3.0","order":3,"run":6,"p":0.768},{"par":"3.0","order":3,"run":1,"p":0.766},{"par":"3.0","order":3,"run":12,"p":0.764},{"par":"3.0","order":3,"run":17,"p":0.762},{"par":"3.0","order":3,"run":4,"p":0.760},{"par":"3.0","order":3,"run":10,"p":0.757},{"par":"3.0","order":3,"run":15,"p":0.755},{"par":"3.0","order":3,"run":8,"p":0.753},
{"par":"3.0","order":3,"run":12,"p":0.751},{"par":"3.0","order":3,"run":4,"p":0.749},{"par":"3.0","order":3,"run":17,"p":0.746},{"par":"3.0","order":3,"run":1,"p":0.744},{"par":"3.0","order":3,"run":10,"p":0.742},{"par":"3.0","order":3,"run":8,"p":0.740},{"par":"3.0","order":3,"run":15,"p":0.738},{"par":"3.0","order":3,"run":3,"p":0.735},{"par":"3.0","order":3,"run":19,"p":0.733},{"par":"3.0","order":3,"run":6,"p":0.731},{"par":"3.0","order":3,"run":0,"p":0.729},{"par":"3.0","order":3,"run":14,"p":0.727},{"par":"3.0","order":3,"run":9,"p":0.724},{"par":"3.0","order":3,"run":16,"p":0.722},{"par":"3.0","order":3,"run":2,"p":0.720},{"par":"3.0","order":3,"run":11,"p":0.718},{"par":"3.0","order":3,"run":18,"p":0.716},{"par":"3.0","order":3,"run":5,"p":0.713},{"par":"3.0","order":3,"run":13,"p":0.711},{"par":"3.0","order":3,"run":7,"p":0.709},
{"par":"3.0","order":3,"run":7,"p":0.707},{"par":"3.0","order":3,"run":13,"p":0.705},{"par":"3.0","order":3,"run":2,"p":0.702},{"par":"3.0","order":3,"run":18,"p":0.699},{"par":"3.0","order":3,"run":5,"p":0.696},{"par":"3.0","order":3,"run":11,"p":0.692},{"par":"3.0","order":3,"run":0,"p":0.688},{"par":"3.0","order":3,"run":16,"p":0.683},{"par":"3.0","order":3,"run":9,"p":0.678},{"par":"3.0","order":3,"run":3,"p":0.670},
{"par":"4.0","order":1,"run":9,"p":0.956},
{"par":"4.0","order":3,"run":7,"p":0.819},{"par":"4.0","order":3,"run":13,"p":0.798},{"par":"4.0","order":3,"run":2,"p":0.787},{"par":"4.0","order":3,"run":18,"p":0.785},{"par":"4.0","order":3,"run":5,"p":0.782},{"par":"4.0","order":3,"run":11,"p":0.768},{"par":"4.0","order":3,"run":0,"p":0.766},{"par":"4.0","order":3,"run":16,"p":0.763},{"par":"4.0","order":3,"run":9,"p":0.756},
{"par":"5.0","order":1,"run":7,"p":0.979},{"par":"5.0","order":1,"run":13,"p":0.978},{"par":"5.0","order":1,"run":2,"p":0.977},{"par":"5.0","order":1,"run":18,"p":0.977},{"par":"5.0","order":1,"run":5,"p":0.976},{"par":"5.0","order":1,"run":11,"p":0.975},{"par":"5.0","order":1,"run":0,"p":0.975},{"par":"5.0","order":1,"run":16,"p":0.974},{"par":"5.0","order":1,"run":9,"p":0.973},{"par":"5.0","order":1,"run":3,"p":0.972},
{"par":"5.0","order":2,"run":7,"p":0.916},{"par":"5.0","order":2,"run":13,"p":0.914},{"par":"5.0","order":2,"run":2,"p":0.913},{"par":"5.0","order":2,"run":18,"p":0.912},{"par":"5.0","order":2,"run":5,"p":0.911},{"par":"5.0","order":2,"run":11,"p":0.910},{"par":"5.0","order":2,"run":0,"p":0.909},{"par":"5.0","order":2,"run":16,"p":0.908},{"par":"5.0","order":2,"run":9,"p":0.907},{"par":"5.0","order":2,"run":3,"p":0.906},{"par":"5.0","order":2,"run":14,"p":0.905},{"par":"5.0","order":2,"run":19,"p":0.904},{"par":"5.0","order":2,"run":6,"p":0.903},{"par":"5.0","order":2,"run":1,"p":0.902},{"par":"5.0","order":2,"run":12,"p":0.901},{"par":"5.0","order":2,"run":17,"p":0.900},{"par":"5.0","order":2,"run":4,"p":0.899},{"par":"5.0","order":2,"run":10,"p":0.898},{"par":"5.0","order":2,"run":15,"p":0.897},{"par":"5.0","order":2,"run":8,"p":0.896},
{"par":"5.0","order":2,"run":12,"p":0.895},{"par":"5.0","order":2,"run":4,"p":0.893},{"par":"5.0","order":2,"run":17,"p":0.891},{"par":"5.0","order":2,"run":1,"p":0.888},{"par":"5.0","order":2,"run":10,"p":0.886},
{"par":"5.0","order":3,"run":7,"p":0.837},{"par":"5.0","order":3,"run":13,"p":0.835},{"par":"5.0","order":3,"run":2,"p":0.832},{"par":"5.0","order":3,"run":18,"p":0.830},{"par":"5.0","order":3,"run":5,"p":0.828},{"par":"5.0","order":3,"run":11,"p":0.826},{"par":"5.0","order":3,"run":0,"p":0.824},{"par":"5.0","order":3,"run":16,"p":0.822},{"par":"5.0","order":3,"run":9,"p":0.820},{"par":"5.0","order":3,"run":3,"p":0.818},{"par":"5.0","order":3,"run":14,"p":0.816},{"par":"5.0","order":3,"run":19,"p":0.814},{"par":"5.0","order":3,"run":6,"p":0.812},{"par":"5.0","order":3,"run":1,"p":0.810},{"par":"5.0","order":3,"run":12,"p":0.808},{"par":"5.0","order":3,"run":17,"p":0.806},{"par":"5.0","order":3,"run":4,"p":0.804},{"par":"5.0","order":3,"run":10,"p":0.802},{"par":"5.0","order":3,"run":15,"p":0.800},{"par":"5.0","order":3,"run":8,"p":0.798},
{"par":"5.0","order":3,"run":12,"p":0.796},{"par":"5.0","order":3,"run":4,"p":0.794},{"par":"5.0","order":3,"run":17,"p":0.792},{"par":"5.0","order":3,"run":1,"p":0.790},{"par":"5.0","order":3,"run":10,"p":0.788},{"par":"5.0","order":3,"run":8,"p":0.786},{"par":"5.0","order":3,"run":15,"p":0.784},{"par":"5.0","order":3,"run":3,"p":0.782},{"par":"5.0","order":3,"run":19,"p":0.780},{"par":"5.0","order":3,"run":6,"p":0.778},{"par":"5.0","order":3,"run":0,"p":0.776},{"par":"5.0","order":3,"run":14,"p":0.774},{"par":"5.0","order":3,"run":9,"p":0.772},{"par":"5.0","order":3,"run":16,"p":0.770},{"par":"5.0","order":3,"run":2,"p":0.768},{"par":"5.0","order":3,"run":11,"p":0.766},{"par":"5.0","order":3,"run":18,"p":0.764},{"par":"5.0","order":3,"run":5,"p":0.762},{"par":"5.0","order":3,"run":13,"p":0.760},{"par":"5.0","order":3,"run":7,"p":0.758},
{"par":"5.0","order":3,"run":7,"p":0.756},{"par":"5.0","order":3,"run":13,"p":0.754},{"par":"5.0","order":3,"run":2,"p":0.752},{"par":"5.0","order":3,"run":18,"p":0.750},{"par":"5.0","order":3,"run":5,"p":0.746},{"par":"5.0","order":3,"run":11,"p":0.742},{"par":"5.0","order":3,"run":0,"p":0.738},{"par":"5.0","order":3,"run":16,"p":0.734},{"par":"5.0","order":3,"run":9,"p":0.729},{"par":"5.0","order":3,"run":3,"p":0.719},{"par":"5.0","order":3,"run":14,"p":0.716},{"par":"5.0","order":3,"run":19,"p":0.705}
]},
"encoding":{
"x":{"field":"par","type":"nominal","scale":{"type":"band","domain":["-4.0","-3.5","-3.0","-2.5","-2.0","-1.5","-1.0","-0.5","1.0","2.0","3.0","4.0","5.0"],"paddingInner":0,"paddingOuter":0},"axis":{"title":"par","labelAngle":45,"labelAlign":"center","labelBaseline":"middle","labelPadding":40,"titlePadding":22}},
"y":{"field":"p","type":"quantitative","scale":{"domain":[0.611,1.012],"nice":false,"zero":false},"axis":{"values":[0.7,0.8,0.9,1.0],"format":".1f","title":"p","labelPadding":9,"titlePadding":9}},
"color":{"field":"order","type":"nominal","scale":{"domain":[1,2,3],"range":["#1f77b4","#ff7f0e","#2ca02c"]},"legend":{"title":"order","orient":"none","legendX":14,"legendY":233,"titleFontSize":26,"labelFontSize":26,"titleFontWeight":"normal","titleAnchor":"middle","titleColor":"#000000","labelColor":"#000000","symbolType":"circle","symbolSize":283,"symbolOpacity":1,"symbolStrokeWidth":0,"symbolOffset":18,"labelOffset":40,"padding":12,"rowPadding":15,"titlePadding":15,"strokeColor":"#cccccc","fillColor":"white","cornerRadius":5}}
},
"layer":[
{"transform":[{"filter":"datum.order==1"}],"mark":{"type":"circle","size":24,"opacity":0.6},"encoding":{"xOffset":{"field":"run","type":"quantitative","scale":{"domain":[-15.13,90.43],"nice":false,"zero":false}}}},
{"transform":[{"filter":"datum.order==2"}],"mark":{"type":"circle","size":24,"opacity":0.6},"encoding":{"xOffset":{"field":"run","type":"quantitative","scale":{"domain":[-43.28,62.28],"nice":false,"zero":false}}}},
{"transform":[{"filter":"datum.order==3"}],"mark":{"type":"circle","size":24,"opacity":0.6},"encoding":{"xOffset":{"field":"run","type":"quantitative","scale":{"domain":[-71.43,34.13],"nice":false,"zero":false}}}}
],
"resolve":{"scale":{"xOffset":"independent"}}
}
